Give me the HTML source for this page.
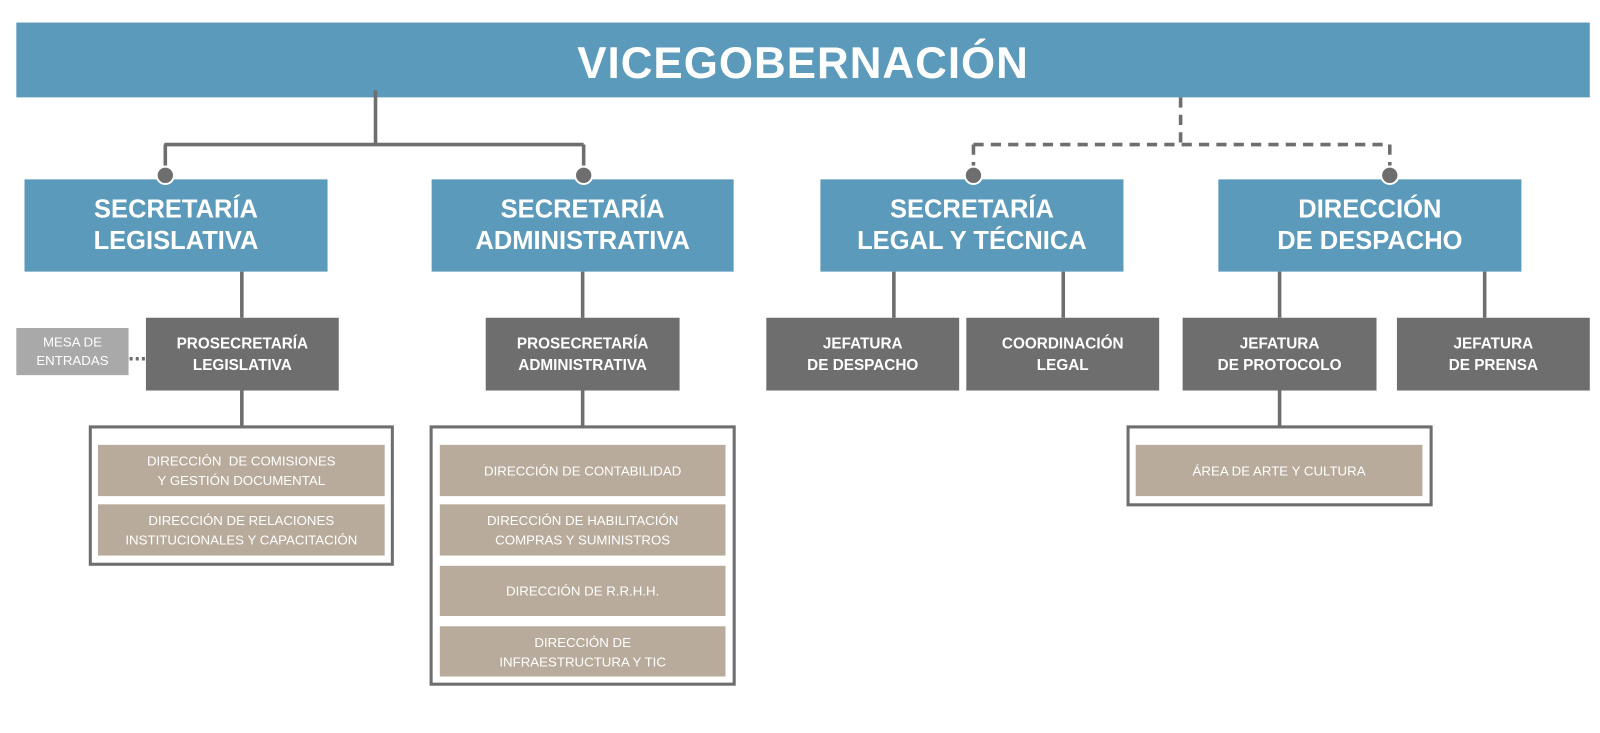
<!DOCTYPE html>
<html><head><meta charset="utf-8"><style>
html,body{margin:0;padding:0;background:#fff;width:1600px;height:733px;overflow:hidden}
#c{position:absolute;left:0;top:0;width:1568px;height:715px;transform:scale(1.0204,1.025);transform-origin:0 0;font-family:"Liberation Sans",sans-serif}
.b{position:absolute;display:flex;align-items:center;justify-content:center;text-align:center;color:#fff;box-sizing:border-box}
.blue{background:#5b9aba;font-weight:bold;font-size:25px;line-height:31px}
.dark{background:#6e6e6e;font-weight:bold;font-size:15px;line-height:21px}
.tan{background:#b8ab9b;font-size:13px;line-height:19px}
.fr{position:absolute;border:3px solid #6e6e6e;box-sizing:border-box}
svg{position:absolute;left:0;top:0;z-index:5}
</style></head><body><div id="c">
<div class="b blue" style="left:16px;top:22px;width:1542px;height:73px;font-size:43px;letter-spacing:1px;padding-top:8px">VICEGOBERNACIÓN</div>
<div class="b blue" style="left:24px;top:175px;width:297px;height:90px">SECRETARÍA<br>LEGISLATIVA</div>
<div class="b blue" style="left:423px;top:175px;width:296px;height:90px">SECRETARÍA<br>ADMINISTRATIVA</div>
<div class="b blue" style="left:804px;top:175px;width:297px;height:90px">SECRETARÍA<br>LEGAL Y TÉCNICA</div>
<div class="b blue" style="left:1194px;top:175px;width:297px;height:90px">DIRECCIÓN<br>DE DESPACHO</div>
<div class="b" style="left:16px;top:320px;width:110px;height:46px;background:#a9a9a9;font-size:13px;line-height:18px">MESA DE<br>ENTRADAS</div>
<div class="b dark" style="left:143px;top:310px;width:189px;height:71px">PROSECRETARÍA<br>LEGISLATIVA</div>
<div class="b dark" style="left:476px;top:310px;width:190px;height:71px">PROSECRETARÍA<br>ADMINISTRATIVA</div>
<div class="b dark" style="left:751px;top:310px;width:189px;height:71px">JEFATURA<br>DE DESPACHO</div>
<div class="b dark" style="left:947px;top:310px;width:189px;height:71px">COORDINACIÓN<br>LEGAL</div>
<div class="b dark" style="left:1159px;top:310px;width:190px;height:71px">JEFATURA<br>DE PROTOCOLO</div>
<div class="b dark" style="left:1369px;top:310px;width:189px;height:71px">JEFATURA<br>DE PRENSA</div>
<div class="fr" style="left:87px;top:415px;width:299px;height:137px"></div>
<div class="b tan" style="left:96px;top:434px;width:281px;height:50px">DIRECCIÓN&nbsp; DE COMISIONES<br>Y GESTIÓN DOCUMENTAL</div>
<div class="b tan" style="left:96px;top:492px;width:281px;height:50px">DIRECCIÓN DE RELACIONES<br>INSTITUCIONALES Y CAPACITACIÓN</div>
<div class="fr" style="left:421px;top:415px;width:300px;height:254px"></div>
<div class="b tan" style="left:431px;top:434px;width:280px;height:50px">DIRECCIÓN DE CONTABILIDAD</div>
<div class="b tan" style="left:431px;top:492px;width:280px;height:50px">DIRECCIÓN DE HABILITACIÓN<br>COMPRAS Y SUMINISTROS</div>
<div class="b tan" style="left:431px;top:552px;width:280px;height:49px">DIRECCIÓN DE R.R.H.H.</div>
<div class="b tan" style="left:431px;top:611px;width:280px;height:49px">DIRECCIÓN DE<br>INFRAESTRUCTURA Y TIC</div>
<div class="fr" style="left:1104px;top:415px;width:300px;height:79px"></div>
<div class="b tan" style="left:1113px;top:434px;width:281px;height:50px">ÁREA DE ARTE Y CULTURA</div>
<svg width="1568" height="715">
<g stroke="#6e6e6e" stroke-width="3.5" fill="none">
<path d="M368 88V141M161 141H572M162 141V164M572 141V164"/>
<path d="M237 265V310M571 265V310M876 265V310M1042 265V310M1254 265V310M1455 265V310M237 381V416M571 381V416M1254 381V416"/>
<path d="M1157 95V141M954 141H1362M954 141V164M1362 141V164" stroke-dasharray="10 7"/>
<path d="M127 350H143" stroke-dasharray="3 3"/>
</g>
<g fill="#6e6e6e" stroke="#fff" stroke-width="2">
<circle cx="162" cy="171" r="8.5"/><circle cx="572" cy="171" r="8.5"/><circle cx="954" cy="171" r="8.5"/><circle cx="1362" cy="171" r="8.5"/>
</g>
</svg>
</div></body></html>
